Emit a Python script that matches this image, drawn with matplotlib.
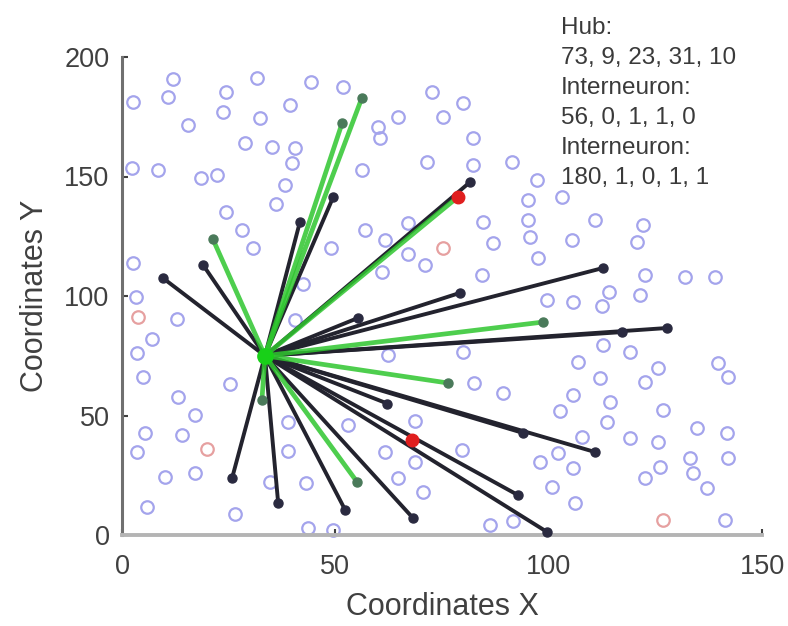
#!/usr/bin/env python3
"""
plot.py
-------
Hub neuron connectivity: blue = neurons, red = interneurons,
black/green lines = hub connections.
"""

import matplotlib
matplotlib.use("Agg")
import matplotlib.pyplot as plt

plt.rcParams["font.family"] = ["Liberation Sans", "DejaVu Sans"]

# hub position
hub_x, hub_y = 33.5, 75.0

# neurons (blue open circles)
blue_x = [12.0, 10.8, 2.6, 24.4, 31.6, 44.3, 39.4, 23.7, 32.3, 15.5,
          28.8, 35.2, 40.6, 39.8, 2.3, 8.4, 18.5, 22.3, 38.2, 36.1,
          24.4, 28.1, 30.7, 2.6, 49.0, 42.4, 3.3, 51.8, 72.7, 79.9,
          64.7, 75.2, 60.0, 60.5, 82.3, 71.5, 91.4, 56.3, 82.3, 97.3,
          95.2, 84.6, 95.2, 95.6, 87.0, 97.5, 57.0, 67.0, 61.6, 67.0,
          71.0, 60.9, 84.4, 103.1, 110.9, 122.1, 105.5, 120.7, 122.6, 132.0,
          139.0, 114.2, 121.4, 12.9, 7.0, 3.5, 4.9, 25.3, 13.1, 17.1,
          5.4, 14.1, 3.5, 38.9, 38.9, 10.1, 17.1, 34.7, 43.1, 5.9,
          26.5, 43.6, 49.5, 62.4, 79.9, 82.5, 89.3, 68.7, 61.6, 79.7,
          68.7, 64.7, 70.6, 86.3, 91.6, 98.0, 99.6, 53.0, 105.7, 112.5,
          112.7, 106.9, 119.1, 125.6, 122.6, 112.0, 139.7, 142.0, 105.7, 102.7,
          114.4, 113.7, 126.8, 134.8, 141.8, 107.8, 119.1, 125.6, 142.0, 102.2,
          105.7, 126.1, 133.1, 133.8, 122.6, 137.1, 100.8, 106.2, 141.3, 40.6]
blue_y = [190.8, 183.3, 181.2, 185.4, 191.2, 189.5, 179.9, 177.0, 174.5, 171.5,
          164.0, 162.3, 161.9, 155.6, 153.6, 152.7, 149.4, 150.6, 146.4, 138.5,
          135.1, 127.6, 120.1, 113.8, 120.1, 105.0, 99.6, 187.4, 185.4, 180.7,
          174.9, 174.9, 170.7, 166.1, 166.1, 156.1, 156.1, 152.7, 154.8, 148.5,
          140.2, 131.0, 131.8, 124.7, 122.2, 115.9, 127.6, 130.5, 123.4, 117.6,
          113.0, 110.0, 108.8, 141.4, 131.8, 129.7, 123.4, 122.6, 108.8, 107.9,
          107.9, 101.7, 100.4, 90.4, 82.0, 76.1, 66.1, 63.2, 57.7, 50.2,
          42.7, 41.8, 34.7, 47.3, 35.1, 24.3, 25.9, 22.2, 21.8, 11.7,
          8.8, 2.9, 2.1, 75.3, 76.6, 63.6, 59.4, 47.7, 34.7, 35.6,
          30.5, 23.8, 18.0, 4.2, 5.9, 30.5, 98.3, 46.0, 97.5, 95.8,
          79.5, 72.4, 76.6, 69.9, 64.0, 65.7, 72.0, 66.1, 58.6, 51.9,
          55.6, 47.3, 52.3, 44.8, 42.7, 41.0, 40.6, 38.9, 32.2, 34.3,
          28.0, 28.5, 32.2, 25.9, 23.8, 19.7, 20.1, 13.4, 6.3, 90.0]

# interneurons (red open circles) and highlighted ones (red filled)
red_x = [3.75, 19.9, 75.2, 126.8]
red_y = [91.2, 36.0, 120.1, 6.3]
red_fill_x = [78.7, 68.0]
red_fill_y = [141.4, 39.7]

# black connection targets
black_x = [9.6, 19.0, 41.7, 49.5, 81.6, 79.2, 112.7, 127.7, 117.2, 110.9,
           94.0, 92.8, 99.6, 68.2, 52.3, 36.6, 25.8, 55.3, 62.2]
black_y = [107.5, 113.0, 131.0, 141.4, 147.7, 101.3, 111.7, 86.6, 84.9, 34.7,
           42.7, 16.7, 1.3, 7.1, 10.5, 13.4, 23.8, 90.8, 55.0]

# green connection targets
green_x = [21.3, 56.2, 51.6, 78.7, 98.7, 76.4, 55.1, 32.8]
green_y = [123.8, 182.8, 172.4, 141.4, 89.1, 63.6, 22.2, 56.5]

info_lines = ["Hub:", "73, 9, 23, 31, 10",
              "Interneuron:", "56, 0, 1, 1, 0",
              "Interneuron:", "180, 1, 0, 1, 1"]


def main():
    fig = plt.figure(figsize=(7.88, 6.26), dpi=100)
    ax = fig.add_axes([122 / 788, 91 / 626, 640 / 788, 478 / 626])

    ax.plot(blue_x, blue_y, "o", ms=9, mfc="none", mec="#a4a4ec",
            mew=1.6, clip_on=False, zorder=1)
    ax.plot(red_x, red_y, "o", ms=9, mfc="none", mec="#e6a0a0",
            mew=1.6, clip_on=False, zorder=1)

    for x, y in zip(black_x, black_y):
        ax.plot([hub_x, x], [hub_y, y], "-", color="#23232e", lw=2.8,
                solid_capstyle="round", zorder=2)
        ax.plot(x, y, "o", ms=6.5, color="#2a2a40", zorder=3, clip_on=False)

    for x, y in zip(green_x, green_y):
        ax.plot([hub_x, x], [hub_y, y], "-", color="#2fc62f", lw=3.4,
                alpha=0.85, solid_capstyle="round", zorder=4)
        ax.plot(x, y, "o", ms=6.5, color="#4a7a5a", zorder=5)

    ax.plot(red_fill_x, red_fill_y, "o", ms=9, color="#e01e1e", zorder=6)
    ax.plot(hub_x, hub_y, "o", ms=11, color="#18d018", zorder=7)

    ax.set_xlim(0, 150)
    ax.set_ylim(0, 200)
    ax.set_xticks([0, 50, 100, 150])
    ax.set_yticks([0, 50, 100, 150, 200])
    for side in ("top", "right"):
        ax.spines[side].set_visible(False)
    ax.spines["left"].set_color("#707070")
    ax.spines["left"].set_linewidth(2.2)
    ax.spines["bottom"].set_color("#b4b4b4")
    ax.spines["bottom"].set_linewidth(2.8)
    ax.tick_params(direction="in", length=4, width=1.5, color="#404040",
                   labelsize=19.5, labelcolor="#404040")
    ax.tick_params(axis="x", pad=14)
    ax.tick_params(axis="y", pad=9)
    ax.set_xlabel("Coordinates X", fontsize=22, color="#404040", labelpad=8)
    ax.set_ylabel("Coordinates Y", fontsize=22, color="#404040", labelpad=10)

    # text block in the top right corner
    for i, line in enumerate(info_lines):
        fig.text(561 / 788, 1 - (28 + 30 * i) / 626, line, fontsize=17.5,
                 color="#3a3a3a", va="center", ha="left")

    fig.savefig("out.png", dpi=100)


if __name__ == "__main__":
    main()
